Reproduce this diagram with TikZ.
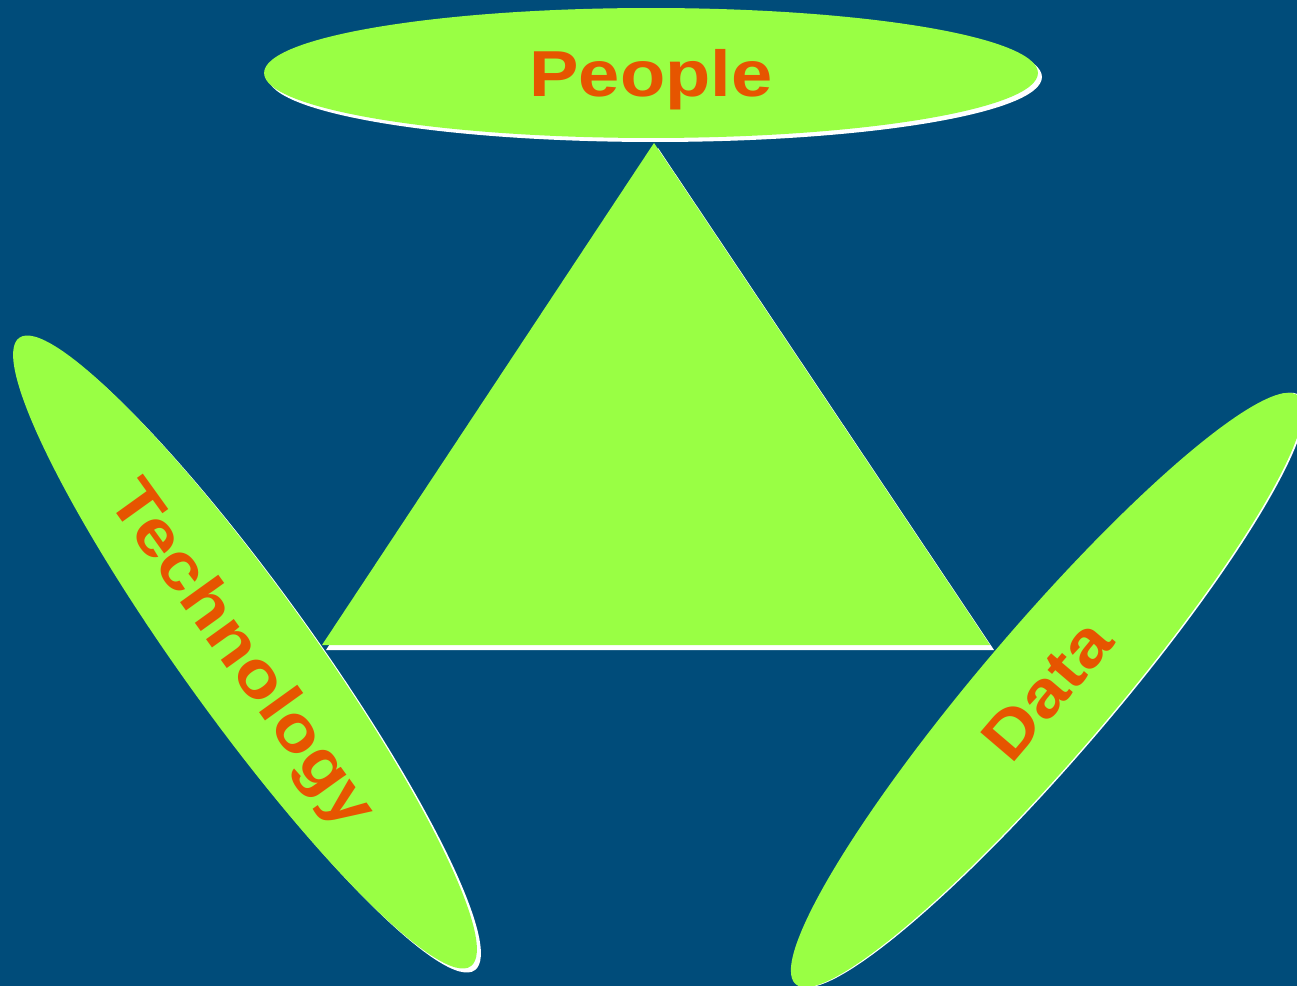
\documentclass[tikz,border=0pt]{standalone}
\usepackage{fontspec}
\setmainfont{Liberation Sans}[FakeStretch=1.14]
\usetikzlibrary{shapes.geometric}

\definecolor{bgblue}{RGB}{0,76,122}
\definecolor{leaf}{RGB}{153,255,68}
\definecolor{rust}{RGB}{230,85,0}

\begin{document}
\begin{tikzpicture}[x=0.02cm, y=-0.02cm,
    petal/.style={ellipse, inner sep=0pt, minimum width=15.48cm, minimum height=2.6cm},
    petalshade/.style={petal, fill=white},
    petalfill/.style={petal, fill=leaf, text=rust, text depth=0pt,
      font=\fontsize{37}{40}\selectfont\bfseries}]
  \useasboundingbox (0,0) rectangle (1297,986);
  \fill[bgblue] (0,0) rectangle (1297,986);
  \clip (0,0) rectangle (1297,986);

  % triangle in the middle
  \coordinate (apex) at (654,143);
  \coordinate (left) at (322,645);
  \coordinate (right) at (990,645);
  \fill[white] ([shift={(4,5)}]apex) -- ([shift={(4,5)}]left) -- ([shift={(4,5)}]right) -- cycle;
  \fill[leaf] (apex) -- (left) -- (right) -- cycle;

  % the three ellipses
  \node[petalshade] at (655,77) {};
  \node[petalfill] (people) at (651,73) {People};

  \node[petalshade, rotate=-54.3] at (249,656) {};
  \node[petalfill, rotate=-54.3] (tech) at (245,652) {Technology};

  \node[petalshade, rotate=49.5] at (1049,690) {};
  \node[petalfill, rotate=49.5] (data) at (1047,690) {Data};
\end{tikzpicture}
\end{document}
